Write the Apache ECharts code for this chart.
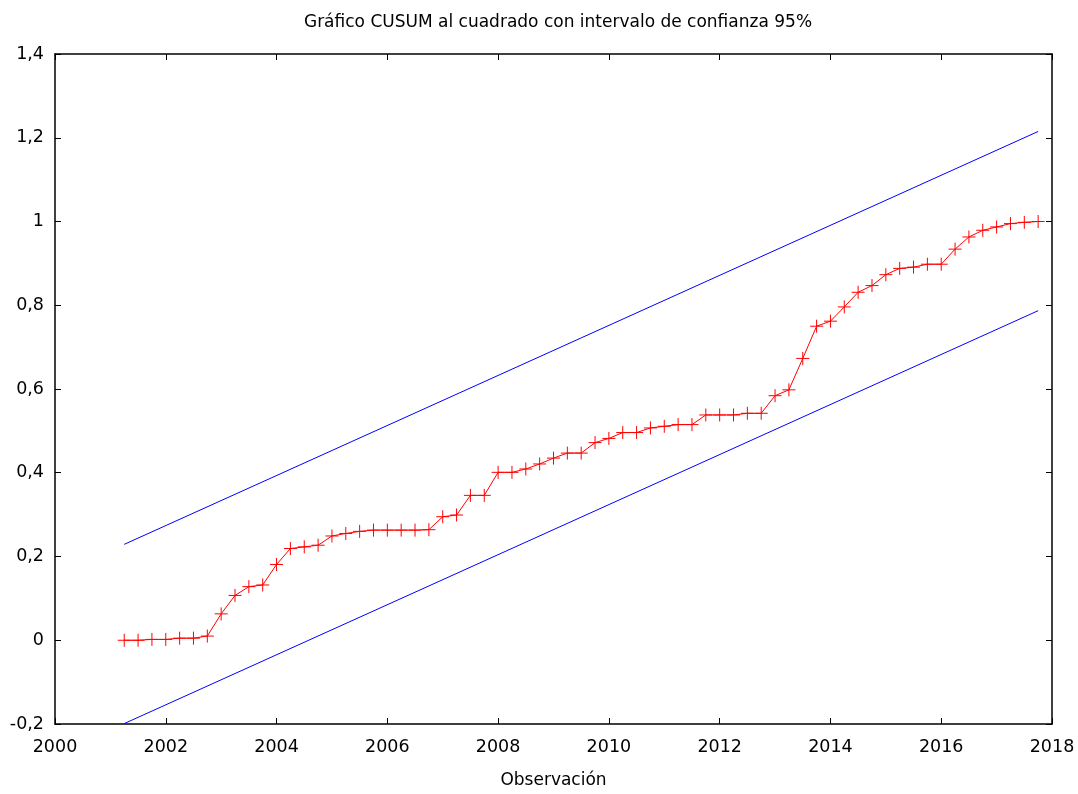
<!DOCTYPE html>
<html>
<head>
<meta charset="utf-8">
<script src="https://cdn.jsdelivr.net/npm/echarts@6/dist/echarts.min.js"></script>
<style>html,body{margin:0;padding:0;background:#fff}#c{width:1078px;height:794px}</style>
</head>
<body>
<div id="c"></div>
<script>
var obs = [2001.25,2001.5,2001.75,2002,2002.25,2002.5,2002.75,2003,2003.25,2003.5,2003.75,
2004,2004.25,2004.5,2004.75,2005,2005.25,2005.5,2005.75,2006,2006.25,2006.5,2006.75,
2007,2007.25,2007.5,2007.75,2008,2008.25,2008.5,2008.75,2009,2009.25,2009.5,2009.75,
2010,2010.25,2010.5,2010.75,2011,2011.25,2011.5,2011.75,2012,2012.25,2012.5,2012.75,
2013,2013.25,2013.5,2013.75,2014,2014.25,2014.5,2014.75,2015,2015.25,2015.5,2015.75,
2016,2016.25,2016.5,2016.75,2017,2017.25,2017.5,2017.75];
var cusumsq = [0,0,0.002,0.002,0.005,0.005,0.010,0.063,0.107,0.128,0.132,
0.181,0.219,0.223,0.227,0.249,0.255,0.260,0.263,0.263,0.263,0.263,0.264,
0.295,0.299,0.346,0.346,0.401,0.401,0.409,0.421,0.435,0.447,0.447,0.472,
0.482,0.496,0.496,0.507,0.511,0.515,0.515,0.538,0.538,0.538,0.542,0.542,
0.584,0.598,0.673,0.750,0.762,0.796,0.831,0.847,0.873,0.888,0.891,0.898,
0.898,0.934,0.963,0.979,0.987,0.995,0.998,1.000];
var boundX = [2001.25, 2017.75];
var upperBound = [0.229, 1.215];
var lowerBound = [-0.199, 0.787];
var xTicks = [2000,2002,2004,2006,2008,2010,2012,2014,2016,2018];
var yTicks = [-0.2,0,0.2,0.4,0.6,0.8,1,1.2,1.4];

var FONT = 'DejaVu Sans';
function pairs(xs, ys){ return xs.map(function(x,i){return [x, ys[i]];}); }
function yfmt(v){ var s = (Math.round(v*10)/10).toString(); return s.replace('.', ','); }

var chart = echarts.init(document.getElementById('c'), null, {renderer:'canvas'});
var axisCommonX = {
  type:'value', min:xTicks[0], max:xTicks[xTicks.length-1], interval:2,
  splitLine:{show:false},
  axisLine:{show:true, onZero:false, lineStyle:{color:'#000', width:1.5}},
  axisTick:{show:true, inside:true, length:6, lineStyle:{color:'#000', width:1}}
};
var axisCommonY = {
  type:'value', min:yTicks[0], max:yTicks[yTicks.length-1], interval:0.2,
  splitLine:{show:false},
  axisLine:{show:true, onZero:false, lineStyle:{color:'#000', width:1.5}},
  axisTick:{show:true, inside:true, length:6, lineStyle:{color:'#000', width:1}}
};
chart.setOption({
  animation:false,
  backgroundColor:'#fff',
  title:{
    text:'Gráfico CUSUM al cuadrado con intervalo de confianza 95%',
    left:553, top:9, textAlign:'center',
    textStyle:{fontFamily:FONT, fontSize:17, fontWeight:'normal', color:'#000'}
  },
  grid:{left:55, right:26, top:54, bottom:66, containLabel:false},
  xAxis:[
    Object.assign({}, axisCommonX, {
      position:'bottom',
      name:'Observación', nameLocation:'middle', nameGap:48,
      nameTextStyle:{fontFamily:FONT, fontSize:17, color:'#000'},
      axisLabel:{show:true, margin:14, fontFamily:FONT, fontSize:17.5, color:'#000',
        formatter:function(v){return String(v);}}
    }),
    Object.assign({}, axisCommonX, {position:'top', axisLabel:{show:false}})
  ],
  yAxis:[
    Object.assign({}, axisCommonY, {
      position:'left',
      axisLabel:{show:true, margin:11, fontFamily:FONT, fontSize:17.5, color:'#000', formatter:yfmt}
    }),
    Object.assign({}, axisCommonY, {position:'right', axisLabel:{show:false}})
  ],
  series:[
    {
      type:'line', name:'CUSUMSQ', data:pairs(obs, cusumsq),
      xAxisIndex:0, yAxisIndex:0,
      symbol:'path://M0,6L12,6M6,0L6,12', symbolSize:13, showAllSymbol:true,
      lineStyle:{color:'#ff0000', width:1},
      itemStyle:{color:'rgba(0,0,0,0)', borderColor:'#ff0000', borderWidth:1},
      emphasis:{disabled:true}
    },
    {
      type:'line', name:'upper', data:pairs(boundX, upperBound),
      xAxisIndex:0, yAxisIndex:0, symbol:'none',
      lineStyle:{color:'#0000ff', width:1}, emphasis:{disabled:true}
    },
    {
      type:'line', name:'lower', data:pairs(boundX, lowerBound),
      xAxisIndex:0, yAxisIndex:0, symbol:'none',
      lineStyle:{color:'#0000ff', width:1}, emphasis:{disabled:true}
    }
  ]
});
</script>
</body>
</html>
